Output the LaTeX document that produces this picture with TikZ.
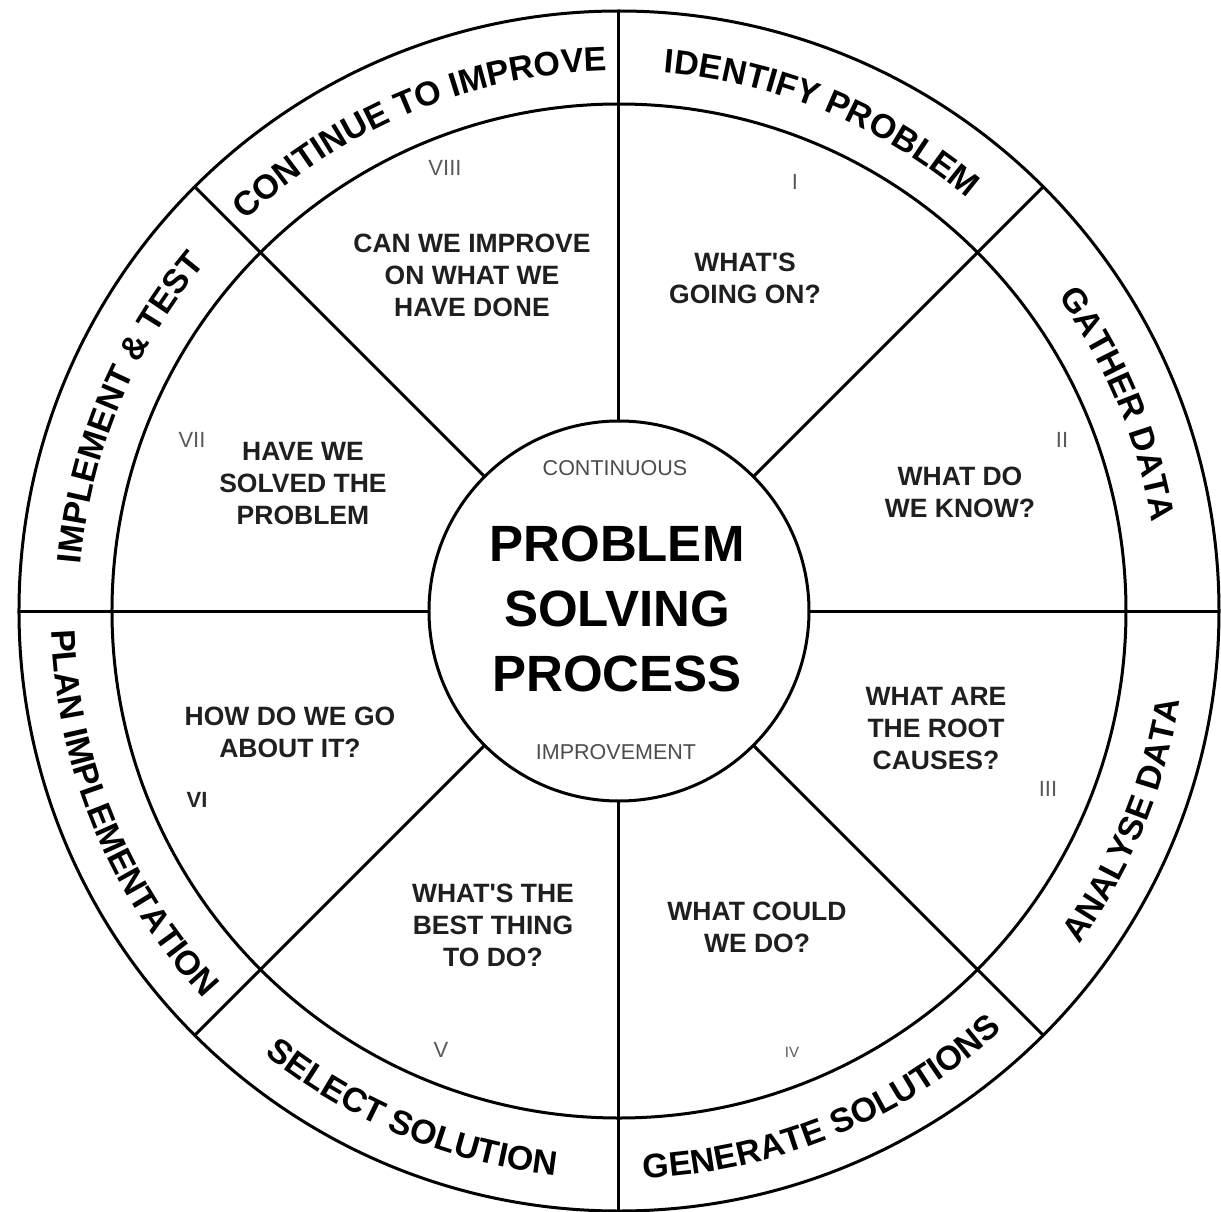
\documentclass[tikz,border=0pt]{standalone}
\usepackage{fontspec}
\setmainfont{Liberation Sans}[Ligatures=TeXOff]
\usetikzlibrary{decorations.text}
\newcommand\ringfont{\fontsize{34}{40}\selectfont\bfseries}
\begin{document}
\begin{tikzpicture}[x=1pt,y=1pt,
  wheel/.style={circle, draw, line width=3pt, inner sep=0pt, outer sep=0pt},
  spoke/.style={line width=3pt},
  question/.style={align=center, font=\fontsize{26.5}{32}\selectfont\bfseries, text=black!88},
  numeral/.style={font=\fontsize{22}{24}\selectfont, text=black!65},
  ringtext/.style={decorate, decoration={text along path, text align=center, text={|\ringfont|#1}}}
]
\useasboundingbox (-619,-600) rectangle (602,611);
\node[wheel, minimum size=1200pt] (outer) at (0,0) {};
\node[wheel, minimum size=1014pt] (ring) at (0,0) {};
\node[wheel, minimum size=380pt] (hub) at (0,0) {};
\foreach \a in {0,45,...,315} \draw[spoke] (hub.\a) -- (outer.\a);

% ring labels: upper half clockwise, lower half counterclockwise
\path[ringtext={IDENTIFY PROBLEM}] (90:540pt) arc[start angle=90, end angle=45, radius=540pt];
\path[ringtext={GATHER DATA}] (45:540pt) arc[start angle=45, end angle=0, radius=540pt];
\path[ringtext={CONTINUE TO IMPROVE}] (135:540pt) arc[start angle=135, end angle=90, radius=540pt];
\path[ringtext={IMPLEMENT {\&} TEST}] (180:540pt) arc[start angle=180, end angle=135, radius=540pt];
\path[ringtext={ANALYSE DATA}] (-45:568pt) arc[start angle=-45, end angle=0, radius=568pt];
\path[ringtext={GENERATE SOLUTIONS}] (-90:568pt) arc[start angle=-90, end angle=-45, radius=568pt];
\path[ringtext={SELECT SOLUTION}] (-135:568pt) arc[start angle=-135, end angle=-90, radius=568pt];
\path[ringtext={PLAN IMPLEMENTATION}] (180:568pt) arc[start angle=180, end angle=225, radius=568pt];

% questions
\node[question] (q1) at (126,333) {WHAT'S\\GOING ON?};
\node[question] (q2) at (341,119) {WHAT DO\\WE KNOW?};
\node[question] (q3) at (317,-118) {WHAT ARE\\THE ROOT\\CAUSES?};
\node[question] (q4) at (138,-316) {WHAT COULD\\WE DO?};
\node[question] (q5) at (-126,-314) {WHAT'S THE\\BEST THING\\TO DO?};
\node[question] (q6) at (-329,-121) {HOW DO WE GO\\ABOUT IT?};
\node[question] (q7) at (-316,127) {HAVE WE\\SOLVED THE\\PROBLEM};
\node[question] (q8) at (-147,336) {CAN WE IMPROVE\\ON WHAT WE\\HAVE DONE};

% numerals
\node[numeral] (n1) at (176,429) {I};
\node[numeral] (n2) at (443,171) {II};
\node[numeral] (n3) at (429,-178) {III};
\node[numeral, font=\fontsize{15}{17}\selectfont] (n4) at (173,-441) {IV};
\node[numeral] (n5) at (-178,-439) {V};
\node[numeral, font=\fontsize{22}{24}\selectfont\bfseries, text=black!85] (n6) at (-422,-189) {VI};
\node[numeral] (n7) at (-427,171) {VII};
\node[numeral] (n8) at (-174,443) {VIII};

% hub text
\node[font=\fontsize{21.5}{24}\selectfont, text=black!70] (cont) at (-4,143) {CONTINUOUS};
\node[font=\fontsize{51}{65}\selectfont\bfseries, align=center] (title) at (-2,2) {PROBLEM\\SOLVING\\PROCESS};
\node[font=\fontsize{21.5}{24}\selectfont, text=black!70] (impr) at (-3,-141) {IMPROVEMENT};
\end{tikzpicture}
\end{document}
